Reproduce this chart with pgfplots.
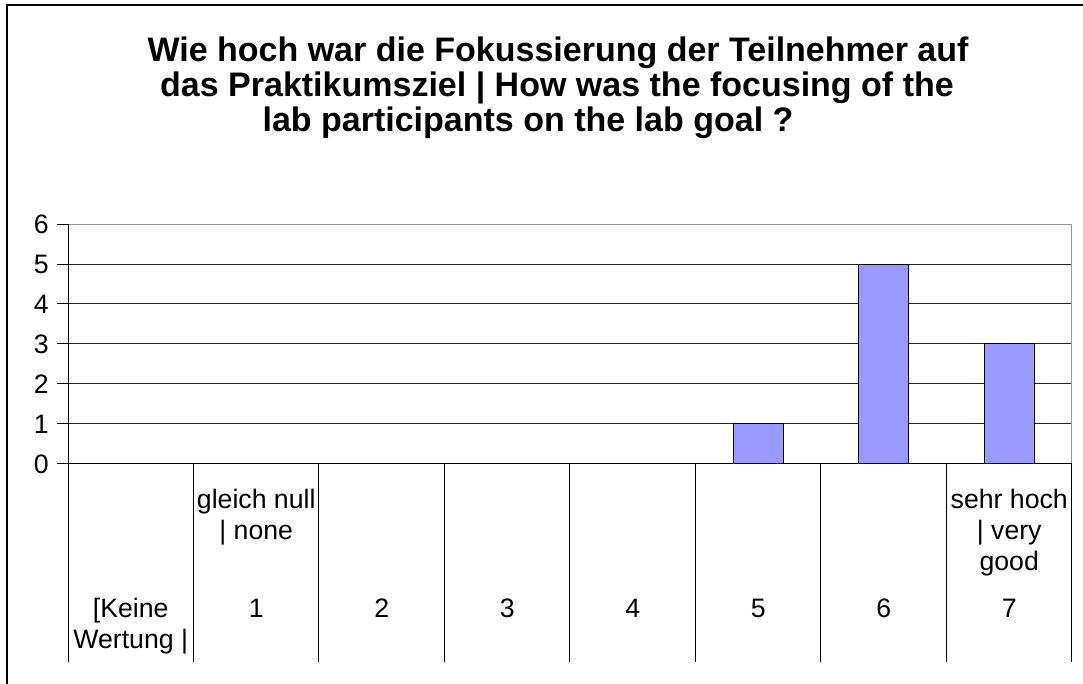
\documentclass[border=0pt]{standalone}
\usepackage{pgfplots}
\pgfplotsset{compat=1.18}
\usepackage{fontspec}
\setmainfont{Liberation Sans}
\definecolor{barblue}{RGB}{153,153,255}
\definecolor{framegray}{RGB}{150,150,150}
% one tick label: three text lines, the number, one line under it
\newcommand{\lbl}[5]{\strut#1\\\strut#2\\\strut#3\\[12pt]\strut#4\\\strut#5}
\begin{document}
\begin{tikzpicture}
\useasboundingbox (0,0) rectangle (812.25pt,513pt);
\draw[line width=1pt] (5.25pt,0) -- (5.25pt,509.25pt) -- (812.25pt,509.25pt);
\begin{scope}[every node/.style={font=\bfseries\fontsize{25.5}{27}\selectfont, anchor=base, inner sep=0pt}]
\node at (418.5pt,466.5pt) {Wie hoch war die Fokussierung der Teilnehmer auf};
\node at (417.75pt,440.25pt) {das Praktikumsziel | How was the focusing of the};
\node at (396pt,414pt) {lab participants on the lab goal ?};
\end{scope}
\begin{axis}[
    at={(51pt,165pt)}, anchor=south west,
    scale only axis, width=753pt, height=180pt,
    xmin=-0.5, xmax=7.5, ymin=0, ymax=6,
    clip=false,
    ybar, bar width=0.4,
    axis line style={draw=framegray, line width=0.75pt},
    xtick={0,...,7},
    xticklabels={
        {\lbl{}{}{}{[Keine}{Wertung |}},
        {\lbl{gleich null}{| none}{}{1}{}},
        {\lbl{}{}{}{2}{}},
        {\lbl{}{}{}{3}{}},
        {\lbl{}{}{}{4}{}},
        {\lbl{}{}{}{5}{}},
        {\lbl{}{}{}{6}{}},
        {\lbl{sehr hoch}{| very}{good}{7}{}}},
    x tick style={draw=none},
    xticklabel style={anchor=north, align=center, font=\fontsize{20}{23.25}\selectfont, yshift=-5.5pt},
    xtick pos=bottom,
    ytick={0,...,6},
    ytick pos=left,
    tick align=outside,
    major tick length=8pt,
    y tick style={draw=black, line width=0.75pt},
    yticklabel style={font=\fontsize{20}{23.25}\selectfont, xshift=-3pt},
    /pgf/number format/assume math mode=true,
    ymajorgrids,
    grid style={draw=black!85, line width=0.75pt},
]
\addplot[fill=barblue, draw=black, line width=0.75pt]
    coordinates {(0,0) (1,0) (2,0) (3,0) (4,0) (5,1) (6,5) (7,3)};
% category separators below the x axis
\draw[black, line width=0.75pt]
    (axis cs:-0.5,0) -- ([yshift=-148.5pt]axis cs:-0.5,0)
    (axis cs:0.5,0) -- ([yshift=-148.5pt]axis cs:0.5,0)
    (axis cs:1.5,0) -- ([yshift=-148.5pt]axis cs:1.5,0)
    (axis cs:2.5,0) -- ([yshift=-148.5pt]axis cs:2.5,0)
    (axis cs:3.5,0) -- ([yshift=-148.5pt]axis cs:3.5,0)
    (axis cs:4.5,0) -- ([yshift=-148.5pt]axis cs:4.5,0)
    (axis cs:5.5,0) -- ([yshift=-148.5pt]axis cs:5.5,0)
    (axis cs:6.5,0) -- ([yshift=-148.5pt]axis cs:6.5,0)
    (axis cs:7.5,0) -- ([yshift=-148.5pt]axis cs:7.5,0);
\draw[framegray, line width=0.75pt] (rel axis cs:0,1) -- (rel axis cs:1,1) -- (rel axis cs:1,0);
\draw[black, line width=0.75pt] (rel axis cs:0,1) -- (rel axis cs:0,0) -- (rel axis cs:1,0);
\end{axis}
\end{tikzpicture}
\end{document}
